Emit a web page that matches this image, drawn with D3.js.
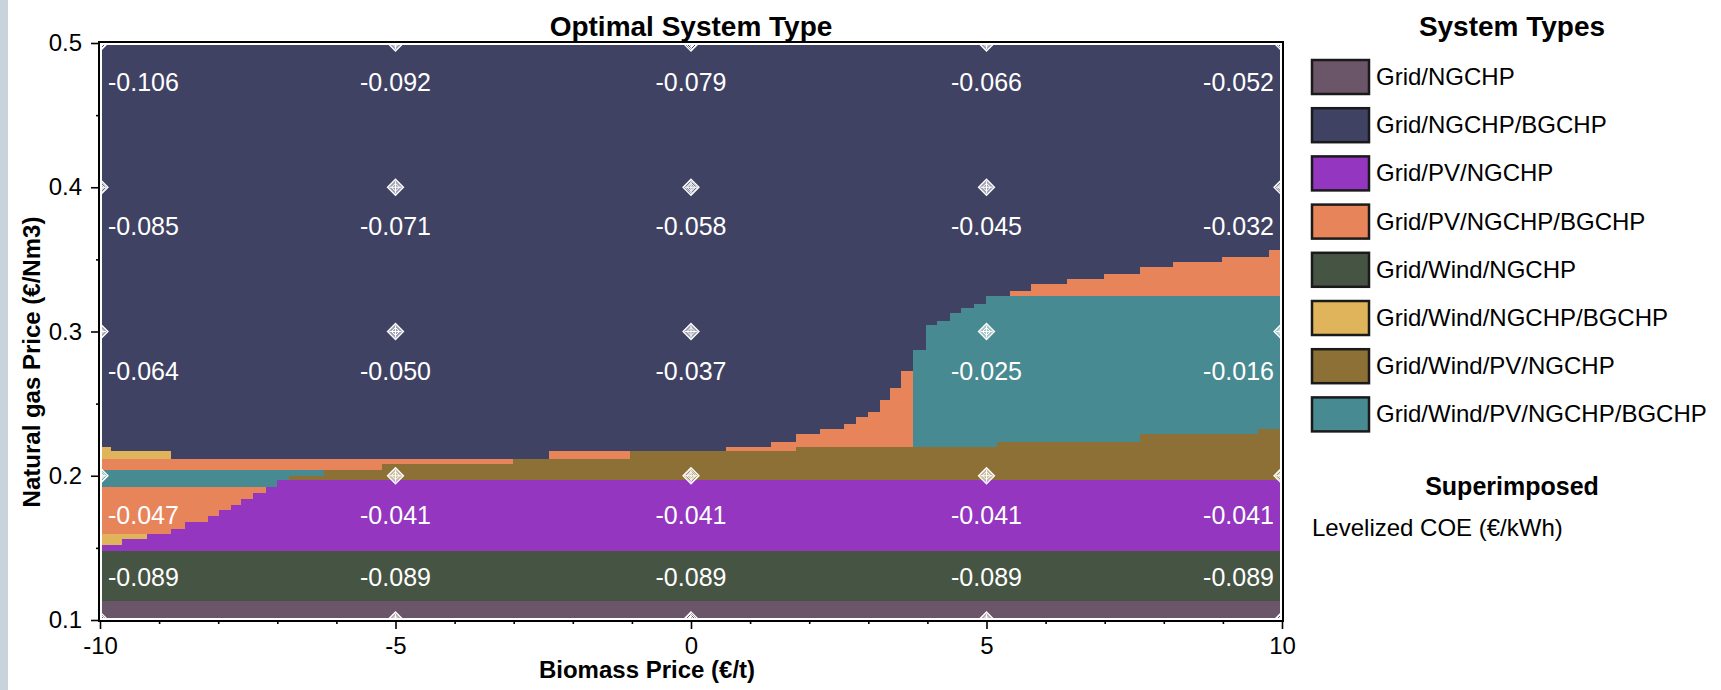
<!DOCTYPE html>
<html>
<head>
<meta charset="utf-8">
<script src="https://cdn.jsdelivr.net/npm/d3@7/dist/d3.min.js"></script>
<style>
  body { margin: 0; background: #fff; }
  svg { display: block; font-family: 'Liberation Sans', Arial, sans-serif; }
</style>
</head>
<body>
<div id="graph"></div>
<script>
'use strict'

// legend / categories
const systemTypes = ['Grid/NGCHP', 'Grid/NGCHP/BGCHP', 'Grid/PV/NGCHP', 'Grid/PV/NGCHP/BGCHP',
  'Grid/Wind/NGCHP', 'Grid/Wind/NGCHP/BGCHP', 'Grid/Wind/PV/NGCHP', 'Grid/Wind/PV/NGCHP/BGCHP']
const typeColors = ['#6b5669', '#404264', '#9436bf', '#e8845a', '#465444', '#e0b45a', '#8c7036', '#478a91']

const xTicks = [-10, -5, 0, 5, 10]
const yTicks = [0.1, 0.2, 0.3, 0.4, 0.5]

// superimposed levelized COE, one row per gas price (0.1 .. 0.5)
const coe01 = [-0.089, -0.089, -0.089, -0.089, -0.089]
const coe02 = [-0.047, -0.041, -0.041, -0.041, -0.041]
const coe03 = [-0.064, -0.050, -0.037, -0.025, -0.016]
const coe04 = [-0.085, -0.071, -0.058, -0.045, -0.032]
const coe05 = [-0.106, -0.092, -0.079, -0.066, -0.052]

// optimal type regions: step edges on biomass price, low/high gas price per step
const navyX = [-10, 10], navyLo = [0.1], navyHi = [0.5]
const mauveX = [-10, 10], mauveLo = [0.1], mauveHi = [0.113]
const windX = [-10, 10], windLo = [0.113], windHi = [0.148]
const tealLeftX = [-10, -7.0, -6.8, -6.21]
const tealLeftLo = [0.1921, 0.197, 0.1998]
const tealLeftHi = [0.2037, 0.2037, 0.2037]
const orangeLowX = [-10, -7.19], orangeLowLo = [0.148], orangeLowHi = [0.1921]
const pvX = [-10, -9.62, -9.2, -8.8, -8.57, -8.18, -7.98, -7.78, -7.61, -7.41, -7.19, -7.0, 10]
const pvLo = [0.148, 0.148, 0.148, 0.148, 0.148, 0.148, 0.148, 0.148, 0.148, 0.148, 0.148, 0.148]
const pvHi = [0.1517, 0.1559, 0.1594, 0.1629, 0.168, 0.1718, 0.1764, 0.1797, 0.1839, 0.1881, 0.1921, 0.197]
const yellowLowX = [-10, -9.62, -9.2], yellowLowLo = [0.1517, 0.1559], yellowLowHi = [0.1594, 0.1594]
const yellowHighX = [-10, -9.82, -8.8], yellowHighLo = [0.2119, 0.2119], yellowHighHi = [0.22, 0.217]
const orangeHighX = [-10, -5.22, -3.02], orangeHighLo = [0.2037, 0.2084], orangeHighHi = [0.2119, 0.2119]
const orangeSlimX = [-2.41, -1.03], orangeSlimLo = [0.2119], orangeSlimHi = [0.217]
const brownX = [-6.8, -6.21, -5.22, -3.02, -1.03, 1.77, 5.18, 7.595, 9.6, 10]
const brownLo = [0.197, 0.197, 0.197, 0.197, 0.197, 0.197, 0.197, 0.197, 0.197]
const brownHi = [0.1998, 0.2037, 0.2084, 0.2119, 0.2173, 0.2201, 0.2236, 0.2287, 0.2322]
const orangeMidX = [0.596, 1.358, 1.77, 2.176, 2.583, 2.786, 2.995, 3.192, 3.362, 3.56, 3.756]
const orangeMidLo = [0.2173, 0.2173, 0.2201, 0.2201, 0.2201, 0.2201, 0.2201, 0.2201, 0.2201, 0.2201]
const orangeMidHi = [0.2201, 0.2236, 0.2287, 0.2322, 0.2357, 0.2406, 0.2441, 0.2522, 0.2606, 0.2725]
const tealRightX = [3.756, 3.971, 4.163, 4.378, 4.576, 4.784, 4.987, 5.18, 7.595, 9.6, 10]
const tealRightLo = [0.2201, 0.2201, 0.2201, 0.2201, 0.2201, 0.2201, 0.2201, 0.2236, 0.2287, 0.2322]
const tealRightHi = [0.2872, 0.3044, 0.3075, 0.3126, 0.3161, 0.3191, 0.3245, 0.3245, 0.3245, 0.3245]
const orangeRightX = [5.394, 5.761, 6.37, 6.985, 7.595, 8.159, 8.978, 9.785, 10]
const orangeRightLo = [0.3245, 0.3245, 0.3245, 0.3245, 0.3245, 0.3245, 0.3245, 0.3245]
const orangeRightHi = [0.3278, 0.3327, 0.3361, 0.3396, 0.3445, 0.348, 0.3517, 0.3564]

let regions = [
  [1, navyX, navyLo, navyHi],
  [0, mauveX, mauveLo, mauveHi],
  [4, windX, windLo, windHi],
  [7, tealLeftX, tealLeftLo, tealLeftHi],
  [3, orangeLowX, orangeLowLo, orangeLowHi],
  [2, pvX, pvLo, pvHi],
  [5, yellowLowX, yellowLowLo, yellowLowHi],
  [5, yellowHighX, yellowHighLo, yellowHighHi],
  [3, orangeHighX, orangeHighLo, orangeHighHi],
  [3, orangeSlimX, orangeSlimLo, orangeSlimHi],
  [6, brownX, brownLo, brownHi],
  [3, orangeMidX, orangeMidLo, orangeMidHi],
  [7, tealRightX, tealRightLo, tealRightHi],
  [3, orangeRightX, orangeRightLo, orangeRightHi]
]
let coeRows = [coe01, coe02, coe03, coe04, coe05]

// plain hyphen minus, like the original
let locale = d3.formatLocale({ decimal: '.', thousands: ',', grouping: [3], currency: ['', ''], minus: '-' })

let cw = 1721, ch = 690,
  pl = 100, pr = 1282, pt = 43, pb = 620,
  svg = d3.select('#graph').append('svg')
    .attr('width', cw)
    .attr('height', ch)

let x = d3.scaleLinear().domain([-10, 10]).range([pl, pr])
let y = d3.scaleLinear().domain([0.1, 0.5]).range([pb, pt])
let color = d3.scaleOrdinal().domain(d3.range(systemTypes.length)).range(typeColors)

// grey strip at the window edge
svg.append('rect')
  .attr('x', 0).attr('y', 0)
  .attr('width', 8).attr('height', ch)
  .attr('fill', '#c8d3dc')

let defs = svg.append('defs')
defs.append('clipPath').attr('id', 'plot-clip')
  .append('rect')
    .attr('x', pl).attr('y', pt)
    .attr('width', pr - pl).attr('height', pb - pt)
let hatch = defs.append('pattern')
  .attr('id', 'hatch')
  .attr('width', 2).attr('height', 2)
  .attr('patternUnits', 'userSpaceOnUse')
hatch.append('rect').attr('width', 1).attr('height', 1).attr('fill', '#fff')
hatch.append('rect').attr('x', 1).attr('y', 1).attr('width', 1).attr('height', 1).attr('fill', '#fff')

let plot = svg.append('g').attr('clip-path', 'url(#plot-clip)')

let area = d3.area()
  .x(d => x(d.x))
  .y0(d => y(d.lo))
  .y1(d => y(d.hi))
  .curve(d3.curveStepAfter)

function stepPoints (xs, lo, hi) {
  let pts = lo.map((v, i) => ({ x: xs[i], lo: v, hi: hi[i] }))
  let n = lo.length - 1
  pts.push({ x: xs[n + 1], lo: lo[n], hi: hi[n] })
  return pts
}

plot.selectAll('path.region')
  .data(regions)
  .enter().append('path')
    .attr('class', 'region')
    .attr('fill', d => color(d[0]))
    .attr('shape-rendering', 'crispEdges')
    .attr('d', d => area(stepPoints(d[1], d[2], d[3])))

// sensitivity markers
let grid = []
yTicks.forEach((gv, r) => xTicks.forEach((bv, c) => grid.push({ bv, gv, r, c })))

let marks = plot.selectAll('g.mark')
  .data(grid)
  .enter().append('g')
    .attr('class', 'mark')
    .attr('transform', d => `translate(${x(d.bv)}, ${y(d.gv)})`)
marks.append('path')
  .attr('d', 'M0,-8L8,0L0,8L-8,0Z')
  .attr('fill', 'url(#hatch)')
  .attr('stroke', '#fff')
  .attr('stroke-width', 1.3)
marks.append('path')
  .attr('d', 'M0,-4L4,0L0,4L-4,0Z')
  .attr('fill', 'none')
  .attr('stroke', '#fff')
  .attr('stroke-width', 1)
marks.append('path')
  .attr('d', 'M-6,0H6M0,-6V6')
  .attr('stroke', '#fff')
  .attr('stroke-width', 1)

// COE labels
let coeFormat = locale.format('.3f')
plot.selectAll('text.coe')
  .data(grid)
  .enter().append('text')
    .attr('class', 'coe')
    .attr('x', d => d.c === 0 ? x(d.bv) + 8 : d.c === xTicks.length - 1 ? x(d.bv) - 8 : x(d.bv))
    .attr('y', d => d.r === 0 ? y(d.gv) - 34 : y(d.gv) + 48)
    .attr('text-anchor', d => d.c === 0 ? 'start' : d.c === xTicks.length - 1 ? 'end' : 'middle')
    .attr('fill', '#fff')
    .style('font-size', '25px')
    .text(d => coeFormat(coeRows[d.r][d.c]))

// frame: black outline with white inner line
svg.append('rect')
  .attr('x', pl + 1).attr('y', pt + 1)
  .attr('width', pr - pl - 2).attr('height', pb - pt - 2)
  .attr('fill', 'none').attr('stroke', '#fff').attr('stroke-width', 2)
svg.append('rect')
  .attr('x', pl - 1).attr('y', pt - 1)
  .attr('width', pr - pl + 2).attr('height', pb - pt + 2)
  .attr('fill', 'none').attr('stroke', '#000').attr('stroke-width', 2)

// axes
let xMinor = d3.range(-10, 11, 1).filter(v => v % 5 !== 0)
let yMinor = [0.15, 0.25, 0.35, 0.45]

svg.append('g')
  .attr('class', 'x-axis')
  .attr('transform', `translate(0, ${pb})`)
  .call(d3.axisBottom(x).tickValues(xTicks).tickSize(9).tickSizeOuter(0).tickPadding(8).tickFormat(locale.format('d')))
svg.append('g')
  .attr('transform', `translate(0, ${pb})`)
  .call(d3.axisBottom(x).tickValues(xMinor).tickSize(4).tickSizeOuter(0).tickFormat(''))

svg.append('g')
  .attr('class', 'y-axis')
  .attr('transform', `translate(${pl}, 0)`)
  .call(d3.axisLeft(y).tickValues(yTicks).tickSize(9).tickSizeOuter(0).tickPadding(9).tickFormat(locale.format('.1f')))
svg.append('g')
  .attr('transform', `translate(${pl}, 0)`)
  .call(d3.axisLeft(y).tickValues(yMinor).tickSize(4).tickSizeOuter(0).tickFormat(''))

svg.selectAll('.domain').remove()
svg.selectAll('.tick line').attr('stroke', '#000').attr('stroke-width', 1.6)
svg.selectAll('.x-axis text, .y-axis text')
  .attr('fill', '#000')
  .style('font-size', '24px')
  .style('font-family', "'Liberation Sans', Arial, sans-serif")

// titles
svg.append('text')
  .attr('x', (pl + pr) / 2).attr('y', 36)
  .attr('text-anchor', 'middle')
  .style('font-size', '28px').style('font-weight', 'bold')
  .text('Optimal System Type')

svg.append('text')
  .attr('x', 647).attr('y', 678)
  .attr('text-anchor', 'middle')
  .style('font-size', '24px').style('font-weight', 'bold')
  .text('Biomass Price (€/t)')

svg.append('text')
  .attr('transform', 'translate(40, 362) rotate(-90)')
  .attr('text-anchor', 'middle')
  .style('font-size', '24px').style('font-weight', 'bold')
  .text('Natural gas Price (€/Nm3)')

// legend
let legend = svg.append('g').attr('class', 'legend')
legend.append('text')
  .attr('x', 1512).attr('y', 36)
  .attr('text-anchor', 'middle')
  .style('font-size', '28px').style('font-weight', 'bold')
  .text('System Types')

let item = legend.selectAll('g.item')
  .data(systemTypes)
  .enter().append('g')
    .attr('class', 'item')
    .attr('transform', (d, i) => `translate(1312, ${60 + i * 48.2})`)
item.append('rect')
  .attr('width', 57).attr('height', 34)
  .attr('fill', (d, i) => color(i))
  .attr('stroke', '#1a1a1a').attr('stroke-width', 2.5)
item.append('text')
  .attr('x', 64).attr('y', 25)
  .style('font-size', '24px')
  .text(d => d)

legend.append('text')
  .attr('x', 1512).attr('y', 495)
  .attr('text-anchor', 'middle')
  .style('font-size', '25px').style('font-weight', 'bold')
  .text('Superimposed')
legend.append('text')
  .attr('x', 1312).attr('y', 536)
  .style('font-size', '24px')
  .text('Levelized COE (€/kWh)')
</script>
</body>
</html>
